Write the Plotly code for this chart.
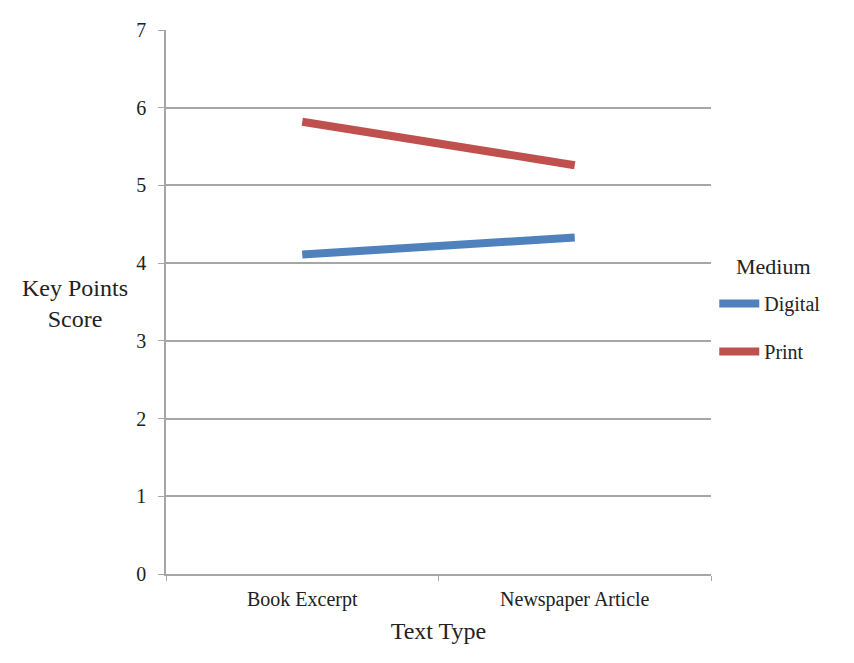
import plotly.graph_objects as go

categories = ["Book Excerpt", "Newspaper Article"]
digital = [4.11, 4.33]
printv = [5.82, 5.26]
y_ticks = [0, 1, 2, 3, 4, 5, 6, 7]

FONT = "Liberation Serif, Times New Roman, serif"

fig = go.Figure()
fig.add_trace(go.Scatter(x=categories, y=digital, mode="lines", name="Digital",
                         legendgroup="d",
                         line=dict(color="#4F81BD", width=8)))
fig.add_trace(go.Scatter(x=categories, y=printv, mode="lines", name="Print",
                         legendgroup="p",
                         line=dict(color="#C0504D", width=8)))

fig.update_layout(
    width=854, height=663,
    margin=dict(l=158, r=151, t=22, b=97),
    paper_bgcolor="white", plot_bgcolor="white",
    font=dict(family=FONT, color="#222222", size=20),
    showlegend=True,
    legend=dict(
        x=1.006, y=0.533, xanchor="left", yanchor="top",
        font=dict(size=20, family=FONT),
        tracegroupgap=19,
        itemwidth=40,
    ),
    xaxis=dict(
        type="category", range=[-0.5, 1.5],
        showgrid=False, showline=True, linecolor="#A6A6A6", linewidth=1.5,
        ticks="outside", tickson="boundaries", ticklen=5, tickcolor="#A6A6A6",
        tickfont=dict(size=20, family=FONT), ticklabelstandoff=6,
        title=dict(text="Text Type", font=dict(size=24, family=FONT), standoff=12),
    ),
    yaxis=dict(
        range=[0, 7], tickvals=y_ticks, showgrid=True, gridcolor="#A6A6A6", gridwidth=1.5,
        showline=True, linecolor="#A6A6A6", linewidth=1.5, zeroline=False,
        ticks="outside", ticklen=6, tickcolor="#A6A6A6",
        tickfont=dict(size=20, family=FONT), ticklabelstandoff=8,
    ),
    annotations=[
        dict(text="Key Points<br>Score", xref="paper", yref="paper",
             x=-0.167, y=0.498, xanchor="center", yanchor="middle",
             showarrow=False, font=dict(size=24, family=FONT)),
        dict(text="Medium", xref="paper", yref="paper",
             x=1.1138, y=0.566, xanchor="center", yanchor="middle",
             showarrow=False, font=dict(size=22, family=FONT)),
    ],
)

fig.write_html("out.html")
